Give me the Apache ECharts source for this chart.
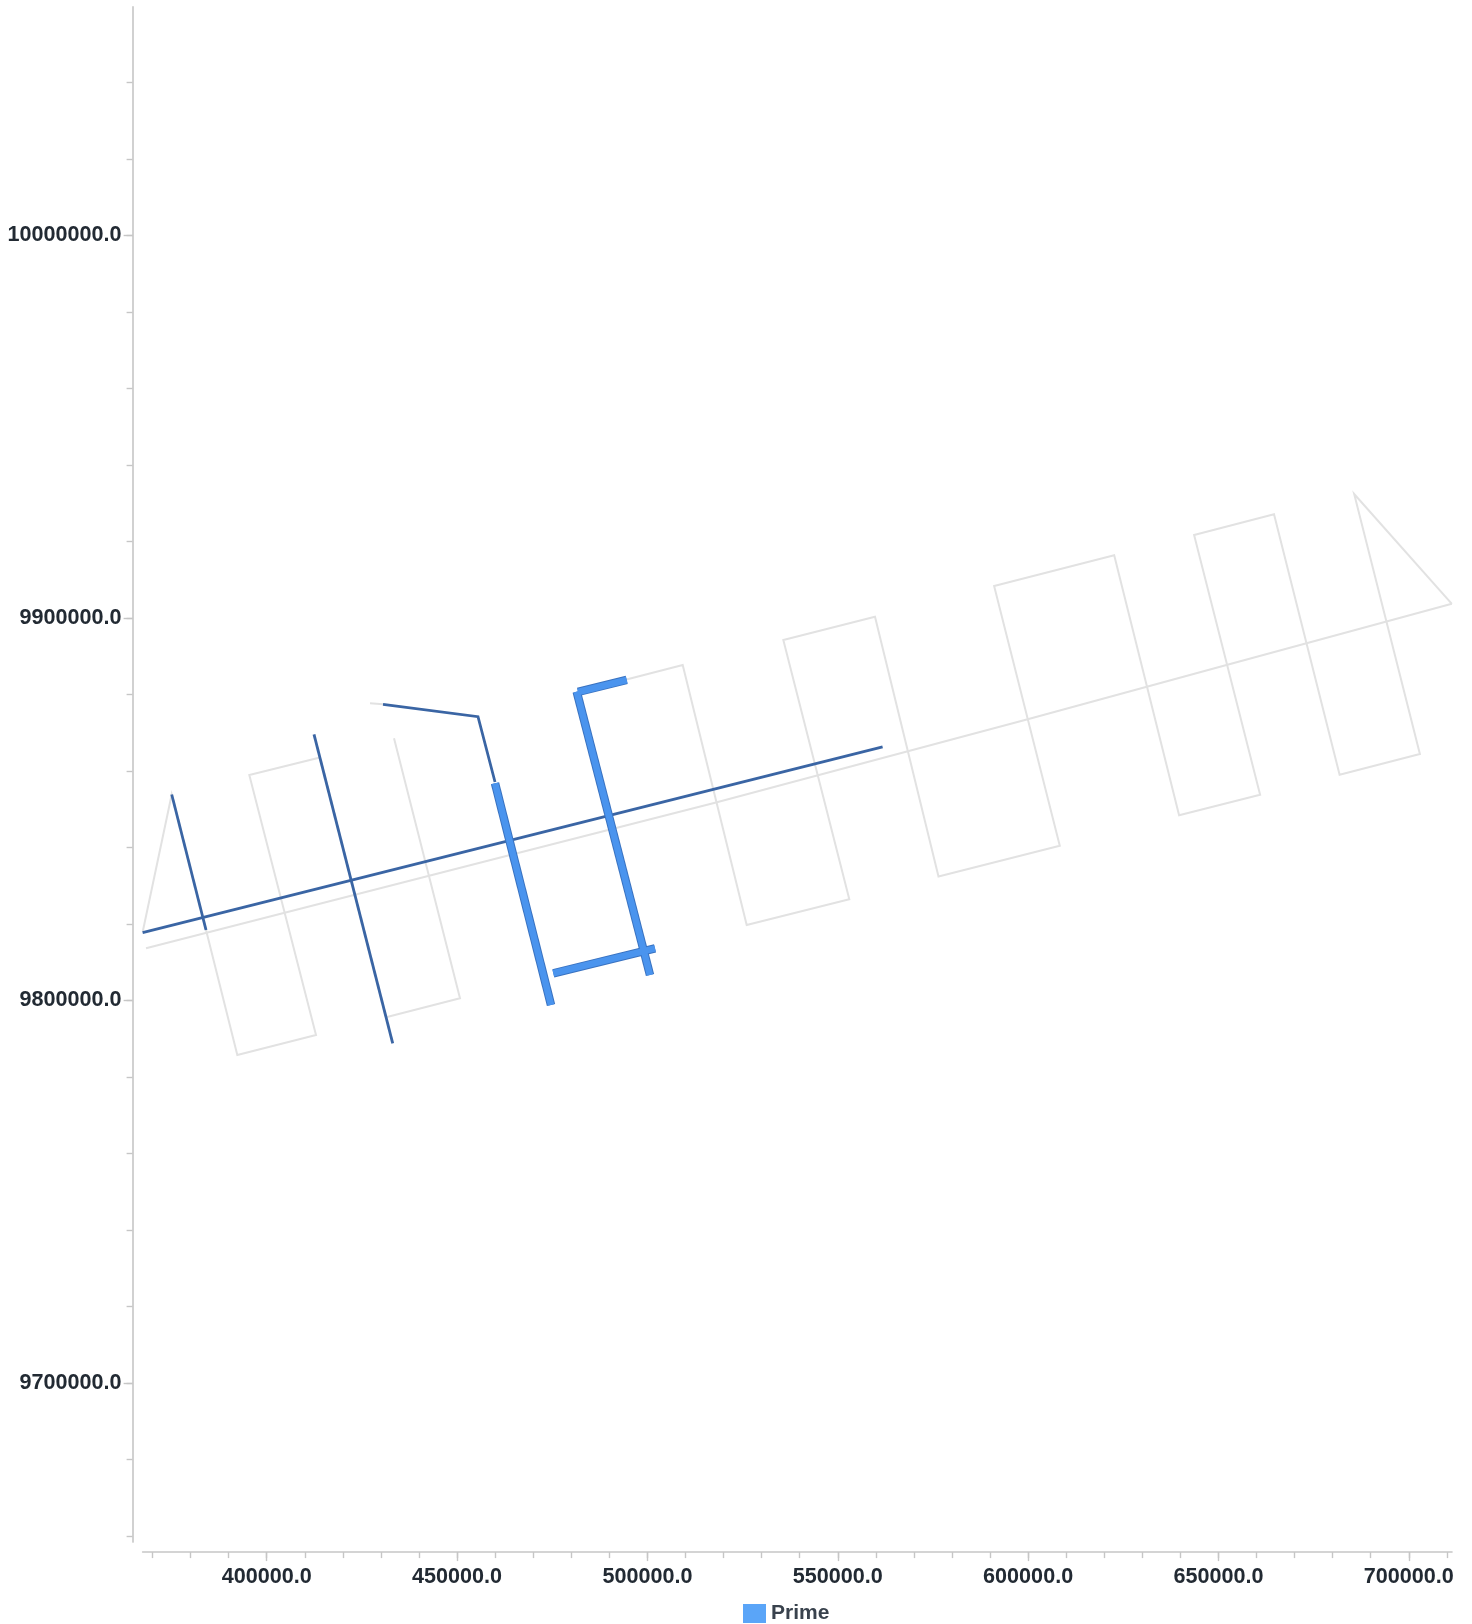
<!DOCTYPE html>
<html>
<head>
<meta charset="utf-8">
<script src="https://cdn.jsdelivr.net/npm/echarts@6/dist/echarts.min.js"></script>
<style>
html,body{margin:0;padding:0;background:#ffffff;}
#chart{width:1472px;height:1624px;}
</style>
</head>
<body>
<div id="chart"></div>
<script>
// ---- axis domains and ticks ----
const xDomain = [367400, 711350];
const yDomain = [9658400, 10059700];
const xMajorTicks = [400000, 450000, 500000, 550000, 600000, 650000, 700000];
const xMinorTicks = [370000, 380000, 390000, 400000, 410000, 420000, 430000, 440000, 450000, 460000,
  470000, 480000, 490000, 500000, 510000, 520000, 530000, 540000, 550000, 560000, 570000, 580000,
  590000, 600000, 610000, 620000, 630000, 640000, 650000, 660000, 670000, 680000, 690000, 700000, 710000];
const yMajorTicks = [9700000, 9800000, 9900000, 10000000];
const yMinorTicks = [9660000, 9680000, 9700000, 9720000, 9740000, 9760000, 9780000, 9800000, 9820000,
  9840000, 9860000, 9880000, 9900000, 9920000, 9940000, 9960000, 9980000, 10000000, 10020000, 10040000];

// ---- planned lines (light grey) ----
const grayPlanPath = [
  [711300, 9903670], [685650, 9932380], [702910, 9864410], [681820, 9859000],
  [664590, 9927070], [643600, 9921660], [660940, 9853770], [639660, 9848390],
  [622610, 9916350], [591070, 9908330], [608320, 9840440], [576460, 9832390],
  [559780, 9900300], [535700, 9894210], [553030, 9826430], [526080, 9819710],
  [509270, 9887680], [481770, 9880620]
];
const grayBaseline = [
  [368300, 9813620], [462150, 9837570], [517760, 9851680],
  [599890, 9873480], [652110, 9887680], [711300, 9903670]
];
const grayLeftPath = [
  [367430, 9817960], [375050, 9853830], [384060, 9818410], [392280, 9785730],
  [412950, 9790960], [395430, 9858920], [414000, 9863500], [431340, 9795610],
  [450770, 9800550], [433440, 9868520]
];
const grayStub = [[427130, 9877670], [430550, 9877400]];

// ---- acquired lines (dark blue) ----
const darkBaseline = [[367400, 9817700], [561780, 9866270]];
const darkCross1 = [[375050, 9853830], [384060, 9818410]];
const darkCross2 = [[412420, 9869560], [433100, 9788790]];
const darkBend = [[430550, 9877400], [455500, 9874160], [459970, 9857090]];

// ---- Prime lines (bright blue) ----
const primeTop = [[494560, 9883760], [481770, 9880620]];
const primeRight = [[481430, 9880700], [500680, 9806640]];
const primeBottom = [[502000, 9813620], [475280, 9807090]];
const primeLeft = [[459970, 9856750], [474680, 9798800]];

const FONT = "'Liberation Sans', Arial, Helvetica, sans-serif";
const AXIS_GREY = '#c6c6c6';
const LABEL_COLOR = '#222a33';

function lineSeries(name, data, color, width, z) {
  return {
    name: name, type: 'line', data: data, showSymbol: false, symbol: 'none',
    silent: true, animation: false, z: z,
    lineStyle: { color: color, width: width, cap: 'butt', join: 'miter' },
    itemStyle: { color: color },
    emphasis: { disabled: true }
  };
}

const series = [];
[grayPlanPath, grayBaseline, grayLeftPath, grayStub].forEach(function (d) {
  series.push(lineSeries('plan', d, '#e2e2e2', 2, 1));
});
[darkBaseline, darkCross1, darkCross2, darkBend].forEach(function (d) {
  series.push(lineSeries('acquired', d, '#3a65a4', 2.8, 2));
});
[primeTop, primeRight, primeBottom, primeLeft].forEach(function (d) {
  series.push(lineSeries('Prime edge', d, '#3972c0', 8.5, 3));
});
[primeTop, primeRight, primeBottom, primeLeft].forEach(function (d) {
  series.push(lineSeries('Prime', d, '#4a94ee', 6.5, 4));
});

const fmt = function (v) { return Number(v).toFixed(1); };

const chart = echarts.init(document.getElementById('chart'), null, { renderer: 'canvas' });
chart.setOption({
  animation: false,
  backgroundColor: '#ffffff',
  grid: { left: 142.6, right: 19.97, top: 6.9, bottom: 81.9, containLabel: false, outerBoundsMode: 'none' },
  legend: {
    data: [{ name: 'Prime', icon: 'rect', itemStyle: { color: '#5aa5f8' } }],
    left: 743, top: 1603, padding: 0,
    itemWidth: 23, itemHeight: 19,
    selectedMode: false,
    textStyle: { fontFamily: FONT, fontSize: 21, fontWeight: 'bold', color: '#39424d' }
  },
  xAxis: [
    {
      type: 'value', min: xDomain[0], max: xDomain[1], position: 'bottom', offset: 10,
      splitLine: { show: false },
      axisLine: { show: true, lineStyle: { color: AXIS_GREY, width: 1.6 } },
      axisTick: { show: true, length: 9, customValues: xMajorTicks, lineStyle: { color: AXIS_GREY, width: 1.4 } },
      axisLabel: { show: true, customValues: xMajorTicks, formatter: fmt, margin: 14,
        fontFamily: FONT, fontSize: 21.6, fontWeight: 'bold', color: LABEL_COLOR }
    },
    {
      type: 'value', min: xDomain[0], max: xDomain[1], position: 'bottom', offset: 10,
      splitLine: { show: false },
      axisLine: { show: false },
      axisTick: { show: true, length: 6, customValues: xMinorTicks, lineStyle: { color: AXIS_GREY, width: 1.4 } },
      axisLabel: { show: false }
    }
  ],
  yAxis: [
    {
      type: 'value', min: yDomain[0], max: yDomain[1], position: 'left', offset: 10,
      splitLine: { show: false },
      axisLine: { show: true, lineStyle: { color: AXIS_GREY, width: 1.6 } },
      axisTick: { show: true, length: 9, customValues: yMajorTicks, lineStyle: { color: AXIS_GREY, width: 1.4 } },
      axisLabel: { show: true, customValues: yMajorTicks, formatter: fmt, margin: 11,
        fontFamily: FONT, fontSize: 21.6, fontWeight: 'bold', color: LABEL_COLOR }
    },
    {
      type: 'value', min: yDomain[0], max: yDomain[1], position: 'left', offset: 10,
      splitLine: { show: false },
      axisLine: { show: false },
      axisTick: { show: true, length: 6, customValues: yMinorTicks, lineStyle: { color: AXIS_GREY, width: 1.4 } },
      axisLabel: { show: false }
    }
  ],
  series: series
});
</script>
</body>
</html>
